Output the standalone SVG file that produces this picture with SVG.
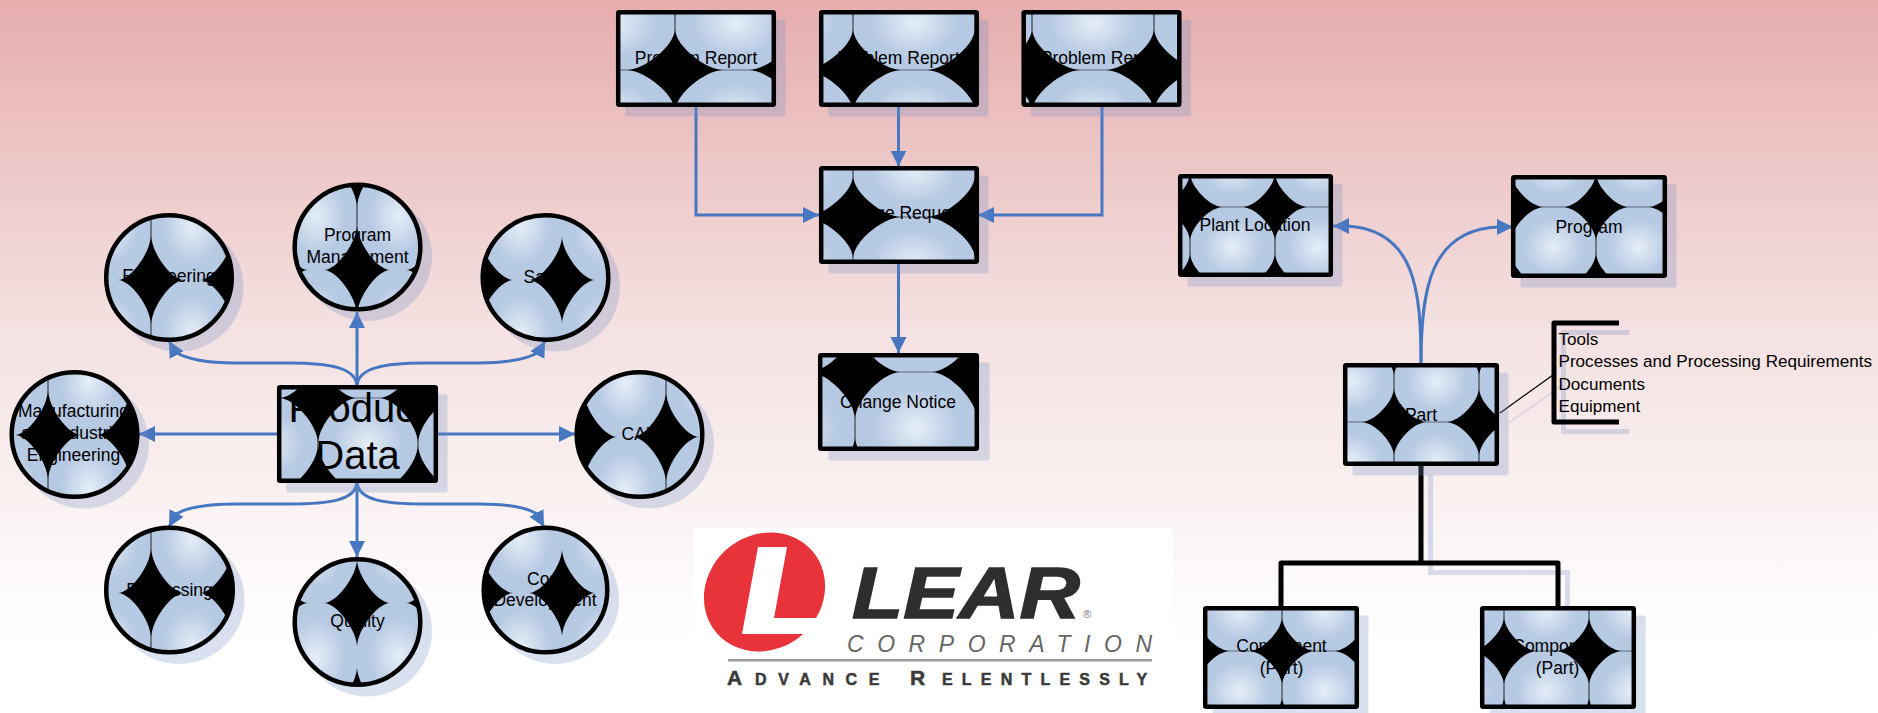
<svg xmlns="http://www.w3.org/2000/svg" width="1878" height="713" viewBox="0 0 1878 713">
<style>
text{font-family:"Liberation Sans",Arial,sans-serif;fill:#000}
.t{font-size:17.5px;text-anchor:middle}
.b{font-size:17.1px}
.sh{fill:#738ec3;fill-opacity:.27;stroke:none}
.bd{fill:none;stroke:#000;stroke-width:4.5}
.c{fill:none;stroke:#4777c1;stroke-width:3}
.k{fill:none;stroke:#000;stroke-width:5;stroke-linejoin:round}
.ks{fill:none;stroke:#738ec3;stroke-opacity:.27;stroke-width:5}
.tile{fill:url(#tg)}
</style>
<defs>
<linearGradient id="bg" x1="0" y1="0" x2="0" y2="1"><stop offset="0" stop-color="#e6adad"/><stop offset=".45" stop-color="#f4e0e0"/><stop offset=".9" stop-color="#ffffff"/></linearGradient>
<radialGradient id="tg" cx=".5" cy=".5" r=".5"><stop offset="0" stop-color="#e6eef8"/><stop offset=".7" stop-color="#b7cae3"/><stop offset="1" stop-color="#b5c9e2"/></radialGradient>
<marker id="ah" markerUnits="userSpaceOnUse" markerWidth="17" markerHeight="17" refX="16" refY="8" orient="auto" viewBox="0 0 17 16"><path d="M0,0L16,8L0,16Z" fill="#4777c1"/></marker>
<path id="tA" d="M48,.2H74C91.8,.2 121.6,24.8 121.6,40V54C121.6,69.2 91.8,93.8 74,93.8H48C29.8,93.8 .4,69.2 .4,54V40C.4,24.8 29.8,.2 48,.2Z"/>
<path id="tB" d="M45,.2H77C94.1,.2 121.6,28.5 121.6,46V66C121.6,83.5 94.1,111.8 77,111.8H45C27.9,111.8 .4,83.5 .4,66V46C.4,28.5 27.9,.2 45,.2Z"/>
<path id="tC" d="M32,.2H53C65.2,.2 84.6,20.5 84.6,33V47C84.6,59.5 65.2,79.8 53,79.8H32C19.8,79.8 .4,59.5 .4,47V33C.4,20.5 19.8,.2 32,.2Z"/>
<path id="tD" d="M38,.2H62C76.4,.2 99.6,27.3 99.6,44V48C99.6,64.7 76.4,91.8 62,91.8H38C23.6,91.8 .4,64.7 .4,48V44C.4,27.3 23.6,.2 38,.2Z"/>
<path id="tE" d="M33,0H49C61.5,0 81.6,27.3 81.6,44V64C81.6,80.7 61.5,108 49,108H33C20.5,108 .4,80.7 .4,64V44C.4,27.3 20.5,0 33,0Z"/>
<path id="tF" d="M33,0H49C61.5,0 82,27.3 82,44V64C82,80.7 61.5,108 49,108H33C20.5,108 0,80.7 0,64V44C0,27.3 20.5,0 33,0Z"/>
<pattern id="p1" patternUnits="userSpaceOnUse" x="675" y="70" width="122" height="94"><rect width="122" height="94"/><use href="#tA" class="tile"/></pattern>
<pattern id="p2" patternUnits="userSpaceOnUse" x="853" y="70" width="122" height="94"><rect width="122" height="94"/><use href="#tA" class="tile"/></pattern>
<pattern id="p3" patternUnits="userSpaceOnUse" x="1032" y="70" width="122" height="94"><rect width="122" height="94"/><use href="#tA" class="tile"/></pattern>
<pattern id="p4" patternUnits="userSpaceOnUse" x="853" y="217" width="122" height="94"><rect width="122" height="94"/><use href="#tA" class="tile"/></pattern>
<pattern id="p5" patternUnits="userSpaceOnUse" x="855" y="372" width="122" height="112"><rect width="122" height="112"/><use href="#tB" class="tile"/></pattern>
<pattern id="p6" patternUnits="userSpaceOnUse" x="1190" y="207" width="85" height="80"><rect width="85" height="80"/><use href="#tC" class="tile"/></pattern>
<pattern id="p7" patternUnits="userSpaceOnUse" x="1511" y="207" width="85" height="80"><rect width="85" height="80"/><use href="#tC" class="tile"/></pattern>
<pattern id="p8" patternUnits="userSpaceOnUse" x="1394" y="422" width="85" height="80"><rect width="85" height="80"/><use href="#tC" class="tile"/></pattern>
<pattern id="p9" patternUnits="userSpaceOnUse" x="1197" y="651" width="85" height="80"><rect width="85" height="80"/><use href="#tC" class="tile"/></pattern>
<pattern id="p10" patternUnits="userSpaceOnUse" x="1504" y="651" width="85" height="80"><rect width="85" height="80"/><use href="#tC" class="tile"/></pattern>
<pattern id="p11" patternUnits="userSpaceOnUse" x="318" y="398" width="100" height="92"><rect width="100" height="92"/><use href="#tD" class="tile"/></pattern>
<pattern id="c1" patternUnits="userSpaceOnUse" x="151" y="280" width="82" height="108"><rect width="82" height="108"/><use href="#tE" class="tile"/></pattern>
<pattern id="c2" patternUnits="userSpaceOnUse" x="357" y="270" width="82" height="108"><rect width="82" height="108"/><use href="#tE" class="tile"/></pattern>
<pattern id="c3" patternUnits="userSpaceOnUse" x="562" y="280" width="82" height="108"><rect width="82" height="108"/><use href="#tF" class="tile"/></pattern>
<pattern id="c4" patternUnits="userSpaceOnUse" x="48" y="435" width="82" height="108"><rect width="82" height="108"/><use href="#tE" class="tile"/></pattern>
<pattern id="c5" patternUnits="userSpaceOnUse" x="666" y="437" width="82" height="108"><rect width="82" height="108"/><use href="#tE" class="tile"/></pattern>
<pattern id="c6" patternUnits="userSpaceOnUse" x="151" y="593" width="82" height="108"><rect width="82" height="108"/><use href="#tE" class="tile"/></pattern>
<pattern id="c7" patternUnits="userSpaceOnUse" x="357" y="603" width="82" height="108"><rect width="82" height="108"/><use href="#tF" class="tile"/></pattern>
<pattern id="c8" patternUnits="userSpaceOnUse" x="562" y="593" width="82" height="108"><rect width="82" height="108"/><use href="#tF" class="tile"/></pattern>
</defs>
<rect width="1878" height="713" fill="url(#bg)"/>

<g id="logo">
<rect x="693" y="528" width="480" height="167" fill="#fff"/>
<ellipse cx="764.5" cy="592" rx="63" ry="57" fill="#e8333a" transform="rotate(-40 764.5 592)"/>
<polygon points="758,547 787,547 774,618 832,618 832,634 742,634" fill="#fff"/>
<text x="852" y="618" font-size="72" font-weight="700" font-style="italic" textLength="228" lengthAdjust="spacingAndGlyphs" style="fill:#2e2e2e;stroke:#2e2e2e;stroke-width:1.5">LEAR</text>
<text x="1083" y="618" font-size="11" style="fill:#777">®</text>
<text x="847" y="652" font-size="23" font-style="italic" textLength="305" style="fill:#666">CORPORATION</text>
<rect x="728" y="659" width="424" height="2.5" fill="#9a9a9a"/>
<text y="685" font-weight="700" style="fill:#3a3a3a;stroke:#3a3a3a;stroke-width:.5"><tspan x="727" font-size="21">A</tspan><tspan x="755" font-size="16" letter-spacing="11.6">DVANCE</tspan><tspan x="910" font-size="21">R</tspan><tspan x="942" font-size="16" letter-spacing="9.2">ELENTLESSLY</tspan></text>
</g>

<g id="connectors">
<path class="c" marker-end="url(#ah)" d="M696,107V215H819"/>
<path class="c" marker-end="url(#ah)" d="M898.5,107V166.5"/>
<path class="c" marker-end="url(#ah)" d="M1102,107V215H978"/>
<path class="c" marker-end="url(#ah)" d="M898.5,264V353"/>
<path class="c" marker-end="url(#ah)" d="M1421,363C1421,290 1415,230 1347,226L1333,226"/>
<path class="c" marker-end="url(#ah)" d="M1421,363C1421,290 1430,230 1498,227L1513,227"/>
<path class="c" marker-end="url(#ah)" d="M357,385V312"/>
<path class="c" marker-end="url(#ah)" d="M357,385C355,368 330,363 290,363L235,363C205,363 185,358 175,352L169,341"/>
<path class="c" marker-end="url(#ah)" d="M357,385C359,368 384,363 424,363L479,363C509,363 529,358 539,352L545,341"/>
<path class="c" marker-end="url(#ah)" d="M277,434H139"/>
<path class="c" marker-end="url(#ah)" d="M438,434H575"/>
<path class="c" marker-end="url(#ah)" d="M357,483V557"/>
<path class="c" marker-end="url(#ah)" d="M357,483C355,500 330,504 290,504L235,504C205,504 188,507 176,514L169,527"/>
<path class="c" marker-end="url(#ah)" d="M357,483C359,500 384,504 424,504L479,504C509,504 526,507 537,514L544,527"/>
<path class="ks" d="M1430.5,475V572.5H1567.5V620"/>
<path class="k" d="M1421,466V563"/>
<path class="k" d="M1281,606V563H1558V606"/>
<path fill="none" stroke="#738ec3" stroke-opacity=".27" stroke-width="1.2" d="M1509.5,422.5L1563,384.5"/>
<path fill="none" stroke="#000" stroke-width="1.2" d="M1500,413L1553,375"/>
</g>

<g id="n-problem-1"><rect class="sh" x="625.5" y="19.5" width="160" height="97" rx="2"/><rect x="618" y="12" width="156" height="93" rx="1" fill="url(#p1)"/><text class="t" x="696" y="64">Problem Report</text><rect class="bd" x="618.2" y="12.2" width="155.6" height="92.6" rx="1"/></g>
<g id="n-problem-2"><rect class="sh" x="828.5" y="19.5" width="160" height="97" rx="2"/><rect x="821" y="12" width="156" height="93" rx="1" fill="url(#p2)"/><text class="t" x="898.5" y="64">Problem Report</text><rect class="bd" x="821.2" y="12.2" width="155.6" height="92.6" rx="1"/></g>
<g id="n-problem-3"><rect class="sh" x="1031" y="19.5" width="160" height="97" rx="2"/><rect x="1023.5" y="12" width="156" height="93" rx="1" fill="url(#p3)"/><text class="t" x="1102" y="64">Problem Report</text><rect class="bd" x="1023.7" y="12.2" width="155.6" height="92.6" rx="1"/></g>
<g id="n-change-request"><rect class="sh" x="828.5" y="175.5" width="160" height="98" rx="2"/><rect x="821" y="168" width="156" height="94" rx="1" fill="url(#p4)"/><text class="t" x="899" y="219">Change Request</text><rect class="bd" x="821.2" y="168.2" width="155.6" height="93.6" rx="1"/></g>
<g id="n-change-notice"><rect class="sh" x="828.5" y="362.5" width="161" height="98" rx="2"/><rect x="820" y="355" width="157" height="94" rx="1" fill="url(#p5)"/><text class="t" x="898" y="407.5">Change Notice</text><rect class="bd" x="820.2" y="355.2" width="156.6" height="93.6" rx="1"/></g>
<g id="n-plant-location"><rect class="sh" x="1187.5" y="183.5" width="155" height="103" rx="2"/><rect x="1180" y="176" width="151" height="99" rx="1" fill="url(#p6)"/><text class="t" x="1255" y="230.5">Plant Location</text><rect class="bd" x="1180.2" y="176.2" width="150.6" height="98.6" rx="1"/></g>
<g id="n-program"><rect class="sh" x="1520.5" y="184.5" width="156" height="103" rx="2"/><rect x="1513" y="177" width="152" height="99" rx="1" fill="url(#p7)"/><text class="t" x="1589" y="232.5">Program</text><rect class="bd" x="1513.2" y="177.2" width="151.6" height="98.6" rx="1"/></g>
<g id="n-part"><rect class="sh" x="1352.5" y="372.5" width="156" height="103" rx="2"/><rect x="1345" y="365" width="152" height="99" rx="1" fill="url(#p8)"/><text class="t" x="1421" y="420.5">Part</text><rect class="bd" x="1345.2" y="365.2" width="151.6" height="98.6" rx="1"/></g>
<g id="n-component-1"><rect class="sh" x="1212.5" y="615.5" width="156" height="103" rx="2"/><rect x="1205" y="608" width="152" height="99" rx="1" fill="url(#p9)"/><text class="t" x="1281.5" y="651.5">Component</text><text class="t" x="1281.5" y="674">(Part)</text><rect class="bd" x="1205.2" y="608.2" width="151.6" height="98.6" rx="1"/></g>
<g id="n-component-2"><rect class="sh" x="1489.5" y="615.5" width="156" height="103" rx="2"/><rect x="1482" y="608" width="152" height="99" rx="1" fill="url(#p10)"/><text class="t" x="1557.5" y="651.5">Component</text><text class="t" x="1557.5" y="674">(Part)</text><rect class="bd" x="1482.2" y="608.2" width="151.6" height="98.6" rx="1"/></g>
<g id="n-product-data"><rect class="sh" x="286.5" y="394.5" width="161" height="98" rx="2"/><rect x="279" y="387" width="157" height="94" rx="1" fill="url(#p11)"/><text x="357.5" y="422" font-size="40" text-anchor="middle">Product</text><text x="357.5" y="469" font-size="40" text-anchor="middle">Data</text><rect class="bd" x="279.2" y="387.2" width="156.6" height="93.6" rx="1"/></g>

<g id="n-engineering"><ellipse class="sh" cx="178.5" cy="287" rx="65" ry="64.5"/><ellipse cx="169" cy="277.5" rx="63" ry="62.5" fill="url(#c1)"/><text class="t" x="169" y="282">Engineering</text><ellipse class="bd" cx="169" cy="277.5" rx="62.8" ry="62.3"/></g>
<g id="n-program-management"><ellipse class="sh" cx="367" cy="256.5" rx="65" ry="64.5"/><ellipse cx="357.5" cy="247" rx="63" ry="62.5" fill="url(#c2)"/><text class="t" x="357.5" y="240.7">Program</text><text class="t" x="357.5" y="263">Management</text><ellipse class="bd" cx="357.5" cy="247" rx="62.8" ry="62.3"/></g>
<g id="n-sales"><ellipse class="sh" cx="555" cy="287" rx="65" ry="64.5"/><ellipse cx="545.5" cy="277.5" rx="63" ry="62.5" fill="url(#c3)"/><text class="t" x="545.5" y="283">Sales</text><ellipse class="bd" cx="545.5" cy="277.5" rx="62.8" ry="62.3"/></g>
<g id="n-manufacturing"><ellipse class="sh" cx="84" cy="444" rx="65" ry="64.5"/><ellipse cx="74.5" cy="434.5" rx="63" ry="62.5" fill="url(#c4)"/><text class="t" x="73.5" y="417.3">Manufacturing</text><text class="t" x="73.5" y="439">and Industrial</text><text class="t" x="73.5" y="461">Engineering</text><ellipse class="bd" cx="74.5" cy="434.5" rx="62.8" ry="62.3"/></g>
<g id="n-cad"><ellipse class="sh" cx="649" cy="444" rx="65" ry="64.5"/><ellipse cx="639.5" cy="434.5" rx="63" ry="62.5" fill="url(#c5)"/><text class="t" x="640" y="440">CAD</text><ellipse class="bd" cx="639.5" cy="434.5" rx="62.8" ry="62.3"/></g>
<g id="n-processing"><ellipse class="sh" cx="179" cy="599.5" rx="65.5" ry="64.5"/><ellipse cx="169.5" cy="590" rx="63.5" ry="62.5" fill="url(#c6)"/><text class="t" x="169.5" y="596">Processing</text><ellipse class="bd" cx="169.5" cy="590" rx="63.3" ry="62.3"/></g>
<g id="n-quality"><ellipse class="sh" cx="367" cy="631.5" rx="65" ry="65"/><ellipse cx="357.5" cy="622" rx="63" ry="63" fill="url(#c7)"/><text class="t" x="357.5" y="626.7">Quality</text><ellipse class="bd" cx="357.5" cy="622" rx="62.8" ry="62.8"/></g>
<g id="n-cost-development"><ellipse class="sh" cx="555" cy="599.5" rx="64" ry="64.5"/><ellipse cx="545.5" cy="590" rx="62" ry="62.5" fill="url(#c8)"/><text class="t" x="545" y="585">Cost</text><text class="t" x="545" y="606">Development</text><ellipse class="bd" cx="545.5" cy="590" rx="61.8" ry="62.3"/></g>

<g id="n-annotation">
<path class="ks" d="M1629,332.5H1563.5V431.5H1629"/>
<path class="k" d="M1619,323H1554V422H1619"/>
<text class="b" x="1558.5" y="345">Tools</text>
<text class="b" x="1558.5" y="367">Processes and Processing Requirements</text>
<text class="b" x="1558.5" y="390">Documents</text>
<text class="b" x="1558.5" y="412">Equipment</text>
</g>
</svg>
